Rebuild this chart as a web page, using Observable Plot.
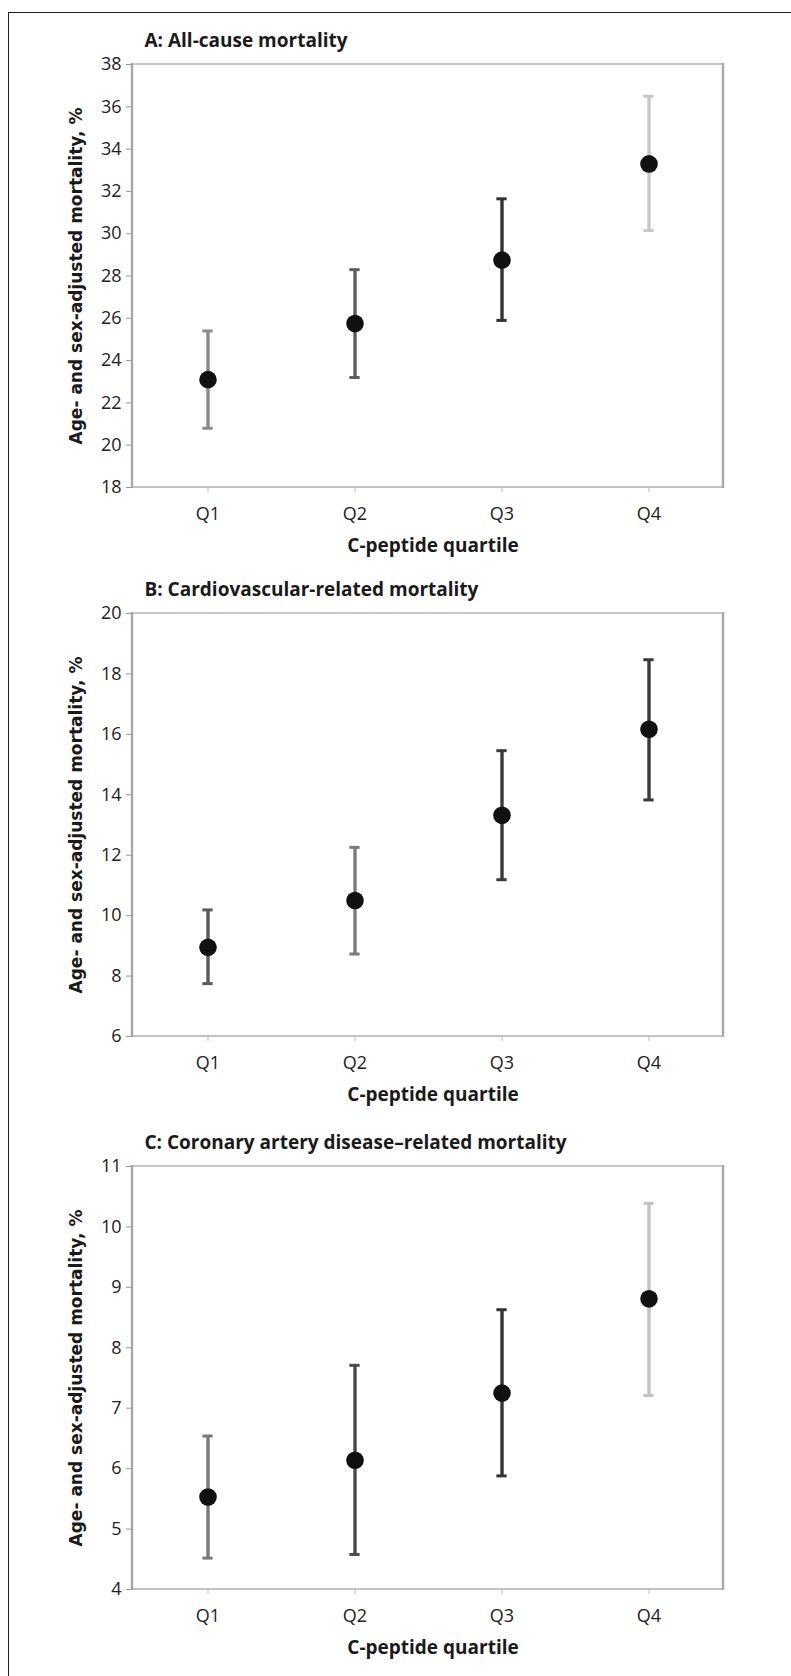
<!DOCTYPE html>
<html>
<head>
<meta charset="utf-8">
<script src="https://cdn.jsdelivr.net/npm/d3@7"></script>
<script src="https://cdn.jsdelivr.net/npm/@observablehq/plot@0.6"></script>
<style>
  html, body { margin: 0; padding: 0; background: #fff; }
  #page { position: relative; width: 791px; height: 1676px; overflow: hidden; background: #fff; }
  #border { position: absolute; left: 8px; top: 12px; width: 800px; height: 1700px;
            border-left: 1.5px solid #222; border-top: 1.5px solid #222; }
  .panel { position: absolute; left: 0; }
  .panel svg { overflow: visible; }
  .panel circle { filter: blur(0.6px); }
</style>
</head>
<body>
<div id="page"><div id="border"></div></div>
<script>
// ---------- data ----------
const categories = ["Q1", "Q2", "Q3", "Q4"];

const titleA = "A: All-cause mortality";
const meanA = [23.1, 25.75, 28.75, 33.3];
const lowA  = [20.8, 23.2, 25.9, 30.15];
const highA = [25.4, 28.3, 31.65, 36.5];
const ticksA = [18, 20, 22, 24, 26, 28, 30, 32, 34, 36, 38];

const titleB = "B: Cardiovascular-related mortality";
const meanB = [8.95, 10.5, 13.32, 16.17];
const lowB  = [7.75, 8.73, 11.19, 13.83];
const highB = [10.19, 12.26, 15.46, 18.47];
const ticksB = [6, 8, 10, 12, 14, 16, 18, 20];

const titleC = "C: Coronary artery disease\u2013related mortality";
const meanC = [5.53, 6.14, 7.25, 8.81];
const lowC  = [4.52, 4.58, 5.88, 7.21];
const highC = [6.54, 7.71, 8.63, 10.39];
const ticksC = [4, 5, 6, 7, 8, 9, 10, 11];

const yTitle = "Age- and sex-adjusted mortality, %";
const xTitle = "C-peptide quartile";

// styles (per error bar shade, as in the original print)
const shadesA = ["#8a8a8a", "#5e5e5e", "#333333", "#c8c8c8"];
const shadesB = ["#5a5a5a", "#7a7a7a", "#3a3a3a", "#3a3a3a"];
const shadesC = ["#7a7a7a", "#4a4a4a", "#333333", "#c2c2c2"];

// ---------- drawing ----------
const W = 791, ML = 132, MR = 68, MT = 50, MB = 75, PH = 423;
const FONT = "'Open Sans', 'Noto Sans', sans-serif";

function framePieces(index, scales, values, dims) {
  const g = d3.create("svg:g");
  const x0 = dims.marginLeft, x1 = dims.width - dims.marginRight;
  const y0 = dims.marginTop, y1 = dims.height - dims.marginBottom;
  g.append("line").attr("x1", x0).attr("x2", x1).attr("y1", y0).attr("y2", y0)
    .attr("stroke", "#c9c9c9").attr("stroke-width", 2);
  g.append("line").attr("x1", x0).attr("x2", x1).attr("y1", y1).attr("y2", y1)
    .attr("stroke", "#c4c4c4").attr("stroke-width", 2);
  g.append("line").attr("x1", x0).attr("x2", x0).attr("y1", y0 - 1).attr("y2", y1 + 1)
    .attr("stroke", "#a8a8a8").attr("stroke-width", 2.4);
  g.append("line").attr("x1", x1).attr("x2", x1).attr("y1", y0 - 1).attr("y2", y1 + 1)
    .attr("stroke", "#a8a8a8").attr("stroke-width", 2.4);
  return g.node();
}

function panel(top, title, mean, low, high, ticks, shades) {
  const rows = categories.map((q, i) => ({q, mean: mean[i], low: low[i], high: high[i], shade: shades[i]}));
  const bw = (W - ML - MR) / categories.length;
  const capInset = (bw - 11) / 2;
  const chart = Plot.plot({
    width: W,
    height: MT + PH + MB,
    marginLeft: ML, marginRight: MR, marginTop: MT, marginBottom: MB,
    style: {fontFamily: FONT, fontSize: "18px", color: "#222", background: "transparent"},
    x: {type: "band", domain: categories, padding: 0, label: null},
    y: {domain: [ticks[0], ticks[ticks.length - 1]], label: null},
    marks: [
      framePieces,
      Plot.axisY({ticks: ticks, tickFormat: d => String(d), tickSize: 6, tickPadding: 5, stroke: "#999", fontSize: 18, label: null}),
      Plot.axisX({tickSize: 5, tickPadding: 15, stroke: "#bbb", fontSize: 18, label: null}),
      Plot.ruleX(rows, {x: "q", y1: "low", y2: "high", stroke: "shade", strokeWidth: 3.4}),
      Plot.tickY(rows, {x: "q", y: "high", stroke: "shade", strokeWidth: 3, insetLeft: capInset, insetRight: capInset}),
      Plot.tickY(rows, {x: "q", y: "low", stroke: "shade", strokeWidth: 3, insetLeft: capInset, insetRight: capInset}),
      Plot.dot(rows, {x: "q", y: "mean", r: 8.8, fill: "#111", stroke: "none"}),
      Plot.text([title], {text: d => d, frameAnchor: "top-left", textAnchor: "start", lineAnchor: "middle", dx: 12, dy: -24,
        fontWeight: "bold", fontSize: 19, fill: "#1a1a1a"}),
      Plot.text([xTitle], {text: d => d, frameAnchor: "bottom", textAnchor: "middle", lineAnchor: "middle", dx: 5, dy: 58,
        fontWeight: "bold", fontSize: 19, fill: "#1a1a1a"}),
      Plot.text([yTitle], {text: d => d, frameAnchor: "left", textAnchor: "middle", lineAnchor: "middle", dx: -56, rotate: -90,
        fontWeight: "bold", fontSize: 17, fontFamily: "'DejaVu Sans', Verdana, sans-serif", fill: "#1a1a1a"})
    ]
  });
  const div = document.createElement("div");
  div.className = "panel";
  div.style.top = top + "px";
  div.appendChild(chart);
  document.getElementById("page").appendChild(div);
}

panel(64 - MT, titleA, meanA, lowA, highA, ticksA, shadesA);
panel(613 - MT, titleB, meanB, lowB, highB, ticksB, shadesB);
panel(1166 - MT, titleC, meanC, lowC, highC, ticksC, shadesC);
</script>
</body>
</html>
